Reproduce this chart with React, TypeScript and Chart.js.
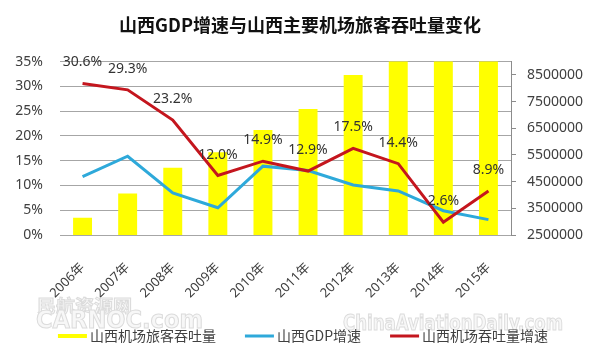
import React, { useEffect, useRef } from 'react';
import { Chart, registerables } from 'chart.js';

Chart.register(...registerables);

const categories = ['2006年', '2007年', '2008年', '2009年', '2010年', '2011年', '2012年', '2013年', '2014年', '2015年'];
const passengerThroughput = [3150000, 4060000, 5020000, 5600000, 6440000, 7220000, 8500000, 9300000, 9700000, 10400000];
const gdpGrowth = [11.8, 15.9, 8.5, 5.5, 13.9, 13.0, 10.1, 8.9, 4.9, 3.1];
const throughputGrowth = [30.6, 29.3, 23.2, 12.0, 14.9, 12.9, 17.5, 14.4, 2.6, 8.9];
const rightTicks = [2500000, 3500000, 4500000, 5500000, 6500000, 7500000, 8500000];
const seriesNames = ['山西机场旅客吞吐量', '山西GDP增速', '山西机场吞吐量增速'];
const titleText = '山西GDP增速与山西主要机场旅客吞吐量变化';
const watermarks = ['民航资源网', 'CARNOC.com', 'ChinaAviationDaily.com'];

const FONT = '"Noto Sans", "Noto Sans CJK SC", sans-serif';
const CJK = '"Noto Sans CJK SC", "Noto Sans", sans-serif';
const YELLOW = '#FFFF00';
const BLUE = '#2EA9DA';
const RED = '#C4161E';
const TEXT = '#404040';
const GRID = '#a6a6a6';

function fitText(ctx: CanvasRenderingContext2D, text: string, x: number, y: number, w: number) {
  const m = ctx.measureText(text).width;
  ctx.save();
  ctx.translate(x, y);
  ctx.scale(w / m, 1);
  ctx.fillText(text, 0, 0);
  ctx.strokeText(text, 0, 0);
  ctx.restore();
}

export default function App() {
  const ref = useRef<HTMLCanvasElement>(null);

  useEffect(() => {
    document.body.style.margin = '0';
    const canvas = ref.current;
    if (!canvas) return;

    const labelPlugin = {
      id: 'redLabels',
      afterDatasetsDraw(chart: any) {
        const ctx = chart.ctx;
        const meta = chart.getDatasetMeta(2);
        ctx.save();
        ctx.font = `14px ${FONT}`;
        ctx.fillStyle = '#333333';
        ctx.textAlign = 'center';
        ctx.textBaseline = 'middle';
        meta.data.forEach((pt: any, i: number) => {
          ctx.fillText(throughputGrowth[i].toFixed(1) + '%', pt.x, pt.y - 21);
        });
        ctx.restore();
      },
    };

    const legendPlugin = {
      id: 'customLegend',
      afterDraw(chart: any) {
        const ctx = chart.ctx;
        ctx.save();
        // faint watermarks
        ctx.textBaseline = 'middle';
        ctx.textAlign = 'left';
        ctx.lineWidth = 1;
        ctx.fillStyle = '#f7f7f7';
        ctx.strokeStyle = '#dcdcdc';
        ctx.font = `bold 17px ${CJK}`;
        fitText(ctx, watermarks[0], 37, 306, 95);
        ctx.font = `bold 25px "DejaVu Sans Condensed", sans-serif`;
        fitText(ctx, watermarks[1], 36, 321, 167);
        ctx.font = `bold 21px "DejaVu Sans Condensed", sans-serif`;
        fitText(ctx, watermarks[2], 343, 325, 220);

        const ds = chart.data.datasets;
        const colors = [YELLOW, BLUE, RED];
        const heights = [4, 3, 3];
        ctx.font = `14px ${CJK}`;
        const boxW = 29;
        const gap = 3;
        const spacing = 29;
        const widths = ds.map((d: any) => boxW + gap + ctx.measureText(d.label).width);
        const total = widths.reduce((a: number, b: number) => a + b, 0) + spacing * (ds.length - 1);
        let x = (chart.width - total) / 2 + 3;
        const y = 336;
        ds.forEach((d: any, i: number) => {
          ctx.fillStyle = colors[i];
          ctx.fillRect(x, y - heights[i] / 2, boxW, heights[i]);
          ctx.fillStyle = TEXT;
          ctx.textAlign = 'left';
          ctx.fillText(d.label, x + boxW + gap, y);
          x += widths[i] + spacing;
        });
        ctx.restore();
      },
    };

    const chart = new Chart(canvas, {
      type: 'bar',
      data: {
        labels: categories,
        datasets: [
          {
            type: 'bar',
            label: seriesNames[0],
            data: passengerThroughput,
            backgroundColor: YELLOW,
            yAxisID: 'y1',
            barPercentage: 0.42,
            categoryPercentage: 1,
            order: 3,
          },
          {
            type: 'line',
            label: seriesNames[1],
            data: gdpGrowth,
            borderColor: BLUE,
            backgroundColor: BLUE,
            borderWidth: 3,
            pointRadius: 0,
            tension: 0,
            yAxisID: 'y',
            order: 2,
          },
          {
            type: 'line',
            label: seriesNames[2],
            data: throughputGrowth,
            borderColor: RED,
            backgroundColor: RED,
            borderWidth: 3,
            pointRadius: 0,
            tension: 0,
            yAxisID: 'y',
            order: 1,
          },
        ] as any,
      },
      options: {
        responsive: false,
        animation: false,
        layout: { padding: { left: 0, right: 0, top: 0, bottom: 40 } },
        plugins: {
          legend: { display: false },
          tooltip: { enabled: false },
          title: {
            display: true,
            text: titleText,
            color: '#111111',
            font: { size: 18, weight: 'bold', family: CJK },
            padding: { top: 14, bottom: 26 },
          },
        },
        scales: {
          x: {
            grid: { display: false, drawTicks: false },
            border: { display: true, color: GRID },
            ticks: {
              minRotation: 45,
              maxRotation: 45,
              autoSkip: false,
              padding: 25,
              color: TEXT,
              font: { size: 13, family: FONT },
            },
            afterFit(s: any) {
              s.height = 79;
            },
          },
          y: {
            position: 'left',
            min: 0,
            max: 35,
            ticks: {
              stepSize: 5,
              padding: 17,
              color: TEXT,
              font: { size: 14, family: FONT },
              callback: (v: any) => v + '%',
            },
            grid: { color: GRID, drawTicks: false },
            border: { display: false },
            afterFit(s: any) {
              s.width = 60;
            },
          },
          y1: {
            position: 'right',
            min: 2500000,
            max: 9000000,
            afterBuildTicks(s: any) {
              s.ticks = rightTicks.map((v) => ({ value: v }));
            },
            ticks: {
              padding: 11,
              color: TEXT,
              font: { size: 14, family: FONT },
              callback: (v: any) => String(v),
            },
            grid: { drawOnChartArea: false, drawTicks: true, tickLength: 5, color: '#8c8c8c' },
            border: { display: true, color: '#8c8c8c' },
            afterFit(s: any) {
              s.width = 89;
            },
          },
        },
      } as any,
      plugins: [labelPlugin, legendPlugin],
    });

    return () => chart.destroy();
  }, []);

  return (
    <div style={{ width: 600, height: 354, background: '#ffffff' }}>
      <canvas ref={ref} width={600} height={354} />
    </div>
  );
}
